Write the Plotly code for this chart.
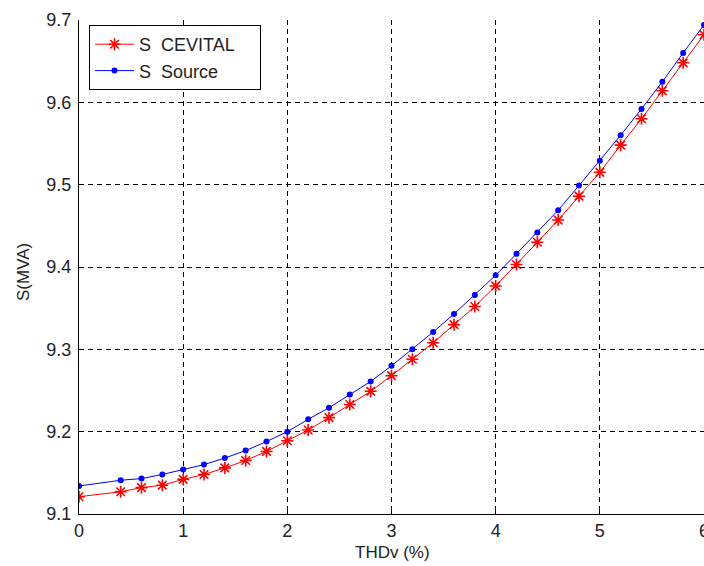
import plotly.graph_objects as go

thdv = [0, 0.4, 0.6, 0.8, 1.0, 1.2, 1.4, 1.6, 1.8, 2.0, 2.2, 2.4, 2.6, 2.8, 3.0,
        3.2, 3.4, 3.6, 3.8, 4.0, 4.2, 4.4, 4.6, 4.8, 5.0, 5.2, 5.4, 5.6, 5.8, 6.0]

s_cevital = [9.121, 9.127, 9.132, 9.135, 9.142, 9.148, 9.156, 9.165, 9.176, 9.189,
             9.202, 9.217, 9.233, 9.249, 9.268, 9.288, 9.308, 9.330, 9.352, 9.377,
             9.403, 9.430, 9.457, 9.486, 9.515, 9.548, 9.580, 9.614, 9.648, 9.682]

s_source = [9.134, 9.141, 9.143, 9.148, 9.154, 9.160, 9.168, 9.177, 9.188, 9.200,
            9.215, 9.229, 9.245, 9.261, 9.280, 9.300, 9.321, 9.343, 9.366, 9.390,
            9.416, 9.442, 9.469, 9.499, 9.529, 9.560, 9.592, 9.625, 9.660, 9.694]

x_ticks = [0, 1, 2, 3, 4, 5, 6]
y_ticks = [9.1, 9.2, 9.3, 9.4, 9.5, 9.6, 9.7]

FONT = "Liberation Sans, Arial, sans-serif"

W, H = 704, 566
ML, MR, MT, MB = 79, 0, 20, 52
PW, PH = W - ML - MR, H - MT - MB


def px_to_paper_x(px):
    return (px - ML) / PW


def px_to_paper_y(py):
    return (H - MB - py) / PH


NB = "\u00a0"

fig = go.Figure()
fig.add_trace(go.Scatter(
    x=thdv, y=s_cevital, mode="lines+markers", name="S" + NB + " CEVITAL" + NB * 4,
    line=dict(color="#FF0000", width=1),
    marker=dict(symbol="asterisk-open", size=10, line=dict(color="#FF0000", width=1.6)),
    cliponaxis=True,
))
fig.add_trace(go.Scatter(
    x=thdv, y=s_source, mode="lines+markers", name="S" + NB + " Source",
    line=dict(color="#0000FF", width=1),
    marker=dict(symbol="circle", size=6, color="#0000FF"),
    cliponaxis=True,
))

axis_common = dict(
    showgrid=True, gridcolor="#000000", gridwidth=1, griddash="5px,4px",
    zeroline=False, showline=True, linecolor="#000000", linewidth=1,
    ticks="inside", ticklen=5, tickcolor="#000000", mirror=False,
    tickfont=dict(family=FONT, size=18, color="#222222"),
    ticklabeloverflow="allow",
)

fig.update_layout(
    width=W, height=H,
    margin=dict(l=ML, r=MR, t=MT, b=MB),
    paper_bgcolor="white", plot_bgcolor="white",
    font=dict(family=FONT, size=18, color="#222222"),
    showlegend=True,
    legend=dict(
        x=px_to_paper_x(89), y=px_to_paper_y(25), xanchor="left", yanchor="top",
        bgcolor="white", bordercolor="#000000", borderwidth=1,
        font=dict(family=FONT, size=18, color="#222222"),
        tracegroupgap=0, itemwidth=39,
    ),
    xaxis=dict(range=[0, 6], tickvals=x_ticks, ticktext=[str(v) for v in x_ticks],
               automargin=False, **axis_common),
    yaxis=dict(range=[9.1, 9.7], tickvals=y_ticks, ticktext=[f"{v:.1f}" for v in y_ticks],
               automargin=False, ticklabelstandoff=3, **axis_common),
    annotations=[
        dict(text="THDv (%)", x=px_to_paper_x(392), y=px_to_paper_y(552),
             xref="paper", yref="paper", showarrow=False,
             xanchor="center", yanchor="middle",
             font=dict(family=FONT, size=17, color="#222222")),
        dict(text="S(MVA)", x=px_to_paper_x(23), y=px_to_paper_y(272),
             xref="paper", yref="paper", showarrow=False, textangle=-90,
             xanchor="center", yanchor="middle",
             font=dict(family=FONT, size=17, color="#222222")),
    ],
)

fig.write_html(
    "out.html",
    config={"displayModeBar": False},
    post_script="document.body.style.margin='0';document.body.style.overflow='hidden';",
)
